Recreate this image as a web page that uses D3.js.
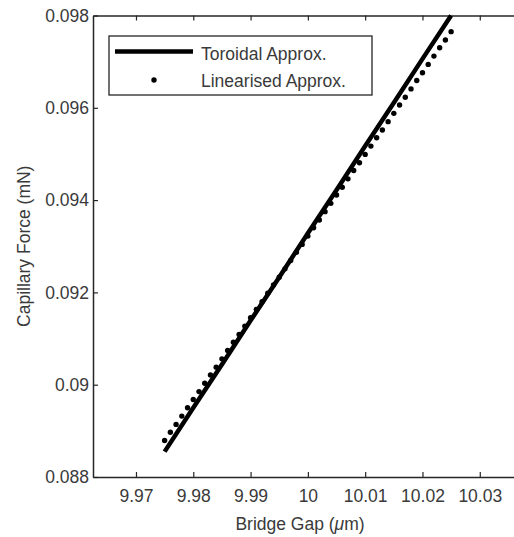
<!DOCTYPE html>
<html>
<head>
<meta charset="utf-8">
<script src="https://cdn.jsdelivr.net/npm/d3@7"></script>
<style>
  body { margin: 0; background: #fff; }
  text { font-family: "Liberation Sans", Arial, sans-serif; fill: #3a3a3a; }
</style>
</head>
<body>
<div class="container"></div>
<script>
// Toroidal approximation (solid line)
var toroidalGap = [9.975, 9.980, 9.985, 9.990, 9.995, 10.000, 10.005, 10.010, 10.015, 10.020, 10.025];
var toroidalForce = [0.08855, 0.08950, 0.09044, 0.09139, 0.09233, 0.09328, 0.09422, 0.09517, 0.09611, 0.09706, 0.09800];

// Linearised approximation (dots)
var linearGap = [9.975, 9.976, 9.977, 9.978, 9.979, 9.980, 9.981, 9.982, 9.983, 9.984,
                 9.985, 9.986, 9.987, 9.988, 9.989, 9.990, 9.991, 9.992, 9.993, 9.994,
                 9.995, 9.996, 9.997, 9.998, 9.999, 10.000, 10.001, 10.002, 10.003, 10.004,
                 10.005, 10.006, 10.007, 10.008, 10.009, 10.010, 10.011, 10.012, 10.013, 10.014,
                 10.015, 10.016, 10.017, 10.018, 10.019, 10.020, 10.021, 10.022, 10.023, 10.024,
                 10.025];
var linearForce = [0.08879, 0.08897, 0.08914, 0.08932, 0.08950, 0.08968, 0.08985, 0.09003, 0.09021, 0.09038,
                   0.09056, 0.09074, 0.09092, 0.09109, 0.09127, 0.09145, 0.09163, 0.09180, 0.09198, 0.09216,
                   0.09233, 0.09251, 0.09269, 0.09287, 0.09304, 0.09322, 0.09340, 0.09357, 0.09375, 0.09393,
                   0.09411, 0.09428, 0.09446, 0.09464, 0.09481, 0.09499, 0.09517, 0.09535, 0.09552, 0.09570,
                   0.09588, 0.09606, 0.09623, 0.09641, 0.09659, 0.09676, 0.09694, 0.09712, 0.09730, 0.09747,
                   0.09765];

var xTicks = [9.97, 9.98, 9.99, 10, 10.01, 10.02, 10.03];
var xTickLabels = ["9.97", "9.98", "9.99", "10", "10.01", "10.02", "10.03"];
var yTicks = [0.088, 0.09, 0.092, 0.094, 0.096, 0.098];
var yTickLabels = ["0.088", "0.09", "0.092", "0.094", "0.096", "0.098"];

var seriesNames = ["Toroidal Approx.", "Linearised Approx."];

var W = 514, H = 537;
var plotLeft = 93, plotTop = 15.5, plotBottom = 477, plotRight = 522.75;

var x = d3.scaleLinear().domain([9.9625, 10.0375]).range([plotLeft, plotRight]);
var y = d3.scaleLinear().domain([0.088, 0.098]).range([plotBottom, plotTop]);

var svg = d3.select(".container")
    .append("svg")
    .attr("width", W)
    .attr("height", H);

var axisColor = "#262626";
var fs = "17.5px";

// bottom axis, ticks inward
var gx = svg.append("g")
    .attr("transform", "translate(0," + plotBottom + ")")
    .call(d3.axisBottom(x).tickValues(xTicks)
      .tickFormat(function(d, i) { return xTickLabels[i]; })
      .tickSizeInner(-5).tickSizeOuter(0).tickPadding(13));
gx.select(".domain").attr("stroke", axisColor).attr("stroke-width", 1.5);
gx.selectAll(".tick line").attr("stroke", axisColor).attr("stroke-width", 1.2);
gx.selectAll("text").style("font-size", fs).attr("fill", "#3a3a3a");

// top axis, ticks only
var gt = svg.append("g")
    .attr("transform", "translate(0," + plotTop + ")")
    .call(d3.axisTop(x).tickValues(xTicks).tickFormat("")
      .tickSizeInner(-5).tickSizeOuter(0));
gt.select(".domain").attr("stroke", axisColor).attr("stroke-width", 1.5);
gt.selectAll(".tick line").attr("stroke", axisColor).attr("stroke-width", 1.2);

// left axis
var gy = svg.append("g")
    .attr("transform", "translate(" + plotLeft + ",0)")
    .call(d3.axisLeft(y).tickValues(yTicks)
      .tickFormat(function(d, i) { return yTickLabels[i]; })
      .tickSizeInner(-5).tickSizeOuter(0).tickPadding(4));
gy.select(".domain").attr("stroke", axisColor).attr("stroke-width", 1.5);
gy.selectAll(".tick line").attr("stroke", axisColor).attr("stroke-width", 1.2);
gy.selectAll("text").style("font-size", fs).attr("fill", "#3a3a3a");

// toroidal line
var tData = toroidalGap.map(function(g, i) { return {x: g, y: toroidalForce[i]}; });
var line = d3.line()
    .x(function(d) { return x(d.x); })
    .y(function(d) { return y(d.y); });

svg.append("path")
    .datum(tData)
    .attr("fill", "none")
    .attr("stroke", "#000")
    .attr("stroke-width", 4.5)
    .attr("d", line);

// linearised dots
var lData = linearGap.map(function(g, i) { return {x: g, y: linearForce[i]}; });
svg.append("g").selectAll("circle")
    .data(lData)
    .enter().append("circle")
    .attr("cx", function(d) { return x(d.x); })
    .attr("cy", function(d) { return y(d.y); })
    .attr("r", 2.7)
    .attr("fill", "#000");

// axis labels
svg.append("text")
    .attr("x", 300)
    .attr("y", 530)
    .attr("text-anchor", "middle")
    .style("font-size", fs)
    .html('Bridge Gap (<tspan font-style="italic">\u03bc</tspan>m)');

svg.append("text")
    .attr("transform", "translate(30," + ((plotTop + plotBottom) / 2) + ") rotate(-90)")
    .attr("text-anchor", "middle")
    .style("font-size", fs)
    .text("Capillary Force (mN)");

// legend
var lg = svg.append("g");
lg.append("rect")
    .attr("x", 109).attr("y", 36)
    .attr("width", 263).attr("height", 59)
    .attr("fill", "#fff")
    .attr("stroke", axisColor)
    .attr("stroke-width", 1.3);
lg.append("line")
    .attr("x1", 115).attr("x2", 193)
    .attr("y1", 51.5).attr("y2", 51.5)
    .attr("stroke", "#000").attr("stroke-width", 4.5);
lg.append("circle")
    .attr("cx", 154).attr("cy", 80)
    .attr("r", 2.7).attr("fill", "#000");
lg.selectAll("text.leg")
    .data(seriesNames)
    .enter().append("text")
    .attr("class", "leg")
    .attr("x", 201)
    .attr("y", function(d, i) { return 59.5 + i * 27.5; })
    .style("font-size", fs)
    .text(function(d) { return d; });
</script>
</body>
</html>
